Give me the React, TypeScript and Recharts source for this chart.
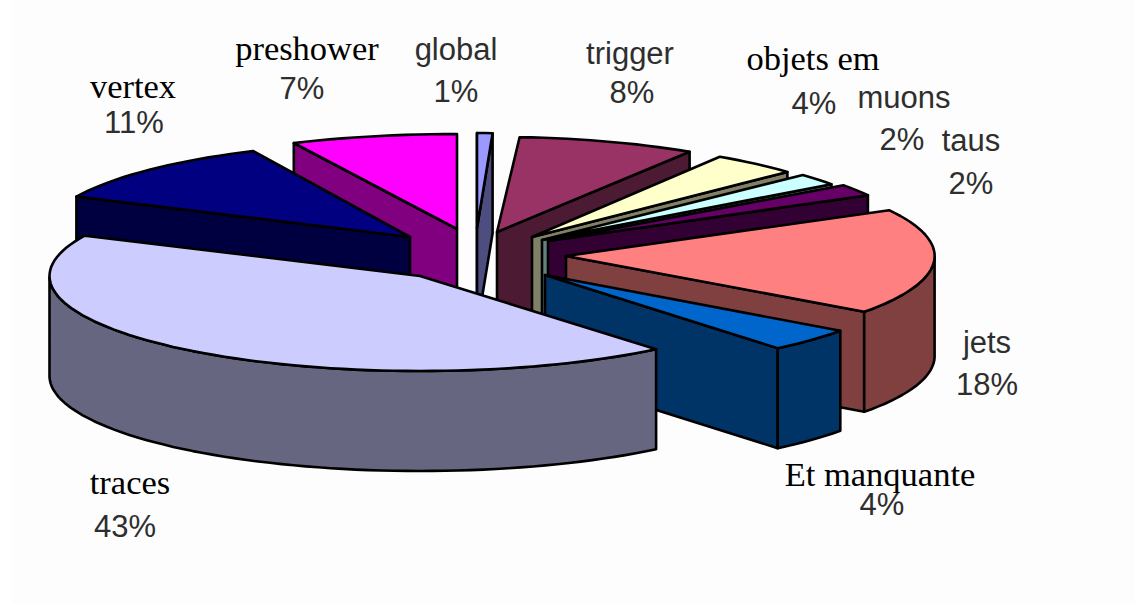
import React from 'react';
import { PieChart, Pie, Cell } from 'recharts';

// clockwise from the back left, traces comes last so it paints over its neighbours
const names = ['vertex', 'preshower', 'global', 'trigger', 'objets em', 'muons', 'taus', 'jets', 'Et manquante', 'traces'];
const percents = [11, 7, 1, 8, 4, 2, 2, 18, 4, 43];

const faceColors = ['#000080', '#ff00ff', '#9999ff', '#993366', '#ffffcc', '#ccffff', '#660066', '#ff8080', '#0066cc', '#ccccff'];
const wallColors = ['#000040', '#800080', '#4d4d80', '#4d1a33', '#808066', '#668080', '#330033', '#804040', '#003366', '#666680'];

const CX = 480;
const CY = 250;
const RX = 365;
const RY = 95;
const DEPTH = 100;
const BEHIND = 'preshower'; // vertex overlaps it, so it goes in a pie of its own underneath

// explosion of each slice: apex offset from the centre, and radius factor
const explode = [
  [-70, -13, 1.01],
  [-23, -21, 1.05],
  [-3, -22, 0.68],
  [17, -18, 0.985],
  [52, -13, 0.96],
  [62, -10, 0.98],
  [68, -9, 1],
  [86, 6, 1.01],
  [65, 25, 1],
  [-60, 26, 1.015],
];

const serifNames = ['vertex', 'preshower', 'objets em', 'Et manquante', 'traces'];

// [name x, name baseline, percent x, percent baseline]
const labelSpots = [
  [133, 98, 134, 133],
  [307, 60, 302, 99],
  [456, 60, 456, 102],
  [630, 64, 632, 103],
  [813, 70, 814, 114],
  [904, 108, 902, 150],
  [971, 151, 971, 194],
  [987, 353, 987, 395],
  [880, 486, 882, 515],
  [130, 494, 125, 537],
];

const RAD = Math.PI / 180;
const toPath = (pts: number[][]) => 'M' + pts.map((p) => `${p[0].toFixed(1)},${p[1].toFixed(1)}`).join('L') + 'Z';

const Slice3D = (props: any) => {
  const { startAngle, endAngle, outerRadius, fill, index } = props;
  const [dx, dy, scale] = explode[index];
  const ax = CX + dx;
  const ay = CY + dy;
  const rx = (outerRadius ?? RX) * scale;
  const steps = Math.max(2, Math.ceil(Math.abs(endAngle - startAngle) / 2));
  const arc: number[][] = [];
  for (let i = 0; i <= steps; i++) {
    const a = (startAngle + ((endAngle - startAngle) * i) / steps) * RAD;
    arc.push([ax + rx * Math.cos(a), ay - RY * Math.sin(a)]);
  }
  const drop = (p: number[]) => [p[0], p[1] + DEPTH];
  const quad = (p: number[], q: number[]) => [p, q, drop(q), drop(p)];
  const apex = [ax, ay];
  const first = arc[0];
  const last = arc[arc.length - 1];

  // the wall under an edge shows when the edge runs leftwards on a clockwise outline
  const walls: number[][][] = [];
  if (first[0] < ax) walls.push(quad(apex, first));
  if (ax < last[0]) walls.push(quad(last, apex));
  const run = arc.filter((p, i) => (i > 0 && p[0] < arc[i - 1][0]) || (i < arc.length - 1 && arc[i + 1][0] < p[0]));
  if (run.length > 1) walls.push([...run, ...run.map(drop).reverse()]);

  const wall = wallColors[index];
  return (
    <g stroke="#000" strokeWidth={2.6} strokeLinejoin="round">
      {walls.map((w, i) => (
        <path key={i} d={toPath(w)} fill={wall} />
      ))}
      <path d={toPath([apex, ...arc])} fill={fill} />
    </g>
  );
};

const BackSlice = (props: any) => (names[props.index] === BEHIND ? <Slice3D {...props} /> : <g />);
const FrontSlice = (props: any) => (names[props.index] === BEHIND ? <g /> : <Slice3D {...props} />);

const SliceLabel = (props: any) => {
  const { index } = props;
  const name = names[index];
  const spot = labelSpots[index];
  const serif = serifNames.includes(name);
  const sans = { fontFamily: '"Liberation Sans", Arial, sans-serif', fontSize: 31, fill: '#2e2e2e' };
  const nameStyle = serif ? { fontFamily: '"Liberation Serif", serif', fontSize: 34.5, fill: '#000' } : sans;
  return (
    <g>
      <text x={spot[0]} y={spot[1]} textAnchor="middle" {...nameStyle}>{name}</text>
      <text x={spot[2]} y={spot[3]} textAnchor="middle" {...sans}>{percents[index]}%</text>
    </g>
  );
};

const chartData = names.map((name, i) => ({ name, value: percents[i] }));

export default function App() {
  const pieProps = {
    data: chartData,
    dataKey: 'value',
    nameKey: 'name',
    cx: CX,
    cy: CY,
    innerRadius: 0,
    outerRadius: RX,
    startAngle: -205.2,
    endAngle: -565.2,
    labelLine: false,
    isAnimationActive: false,
  };
  const cells = names.map((name, i) => <Cell key={name} fill={faceColors[i]} />);
  return (
    <div style={{ position: 'absolute', left: 0, top: 0, width: 1135, height: 604, background: '#fff' }}>
      <div style={{ position: 'absolute', left: 12, top: 0, width: 1123, height: 603, background: '#fcfdfc' }} />
      <div style={{ position: 'absolute', left: 0, top: 0 }}>
        <PieChart width={1135} height={604} margin={{ top: 0, right: 0, bottom: 0, left: 0 }}>
          <Pie {...pieProps} shape={BackSlice} label={false}>{cells}</Pie>
          <Pie {...pieProps} shape={FrontSlice} label={SliceLabel}>{cells}</Pie>
        </PieChart>
      </div>
    </div>
  );
}
